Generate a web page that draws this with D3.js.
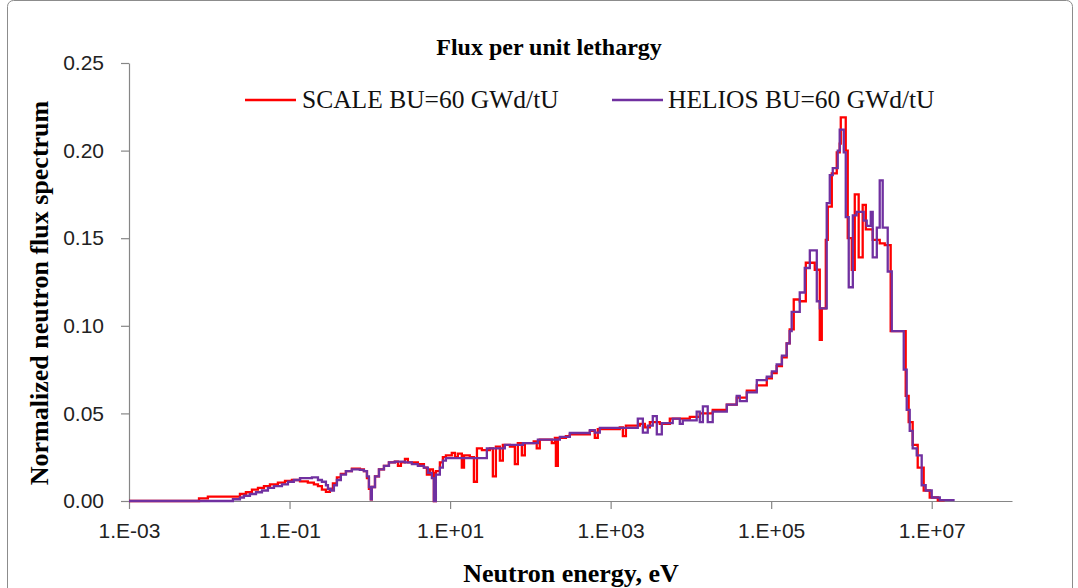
<!DOCTYPE html>
<html>
<head>
<meta charset="utf-8">
<script src="https://cdn.jsdelivr.net/npm/d3@7"></script>
<style>
  body { margin: 0; background: #fff; }
  svg { display: block; }
</style>
</head>
<body>
<svg id="chart" width="1078" height="588"></svg>
<script>
// Step spectra: each flux value holds from its energy up to the next energy (eV)
const heliosEnergy = [1e-3, 0.0197, 0.0241, 0.0270, 0.0321, 0.0382, 0.0453, 0.0538, 0.0640, 0.0804,
  0.0955, 0.113, 0.135, 0.190, 0.226, 0.253, 0.284, 0.301, 0.328, 0.357,
  0.389, 0.436, 0.504, 0.598, 0.753, 0.844, 0.921, 0.975, 1.03, 1.06,
  1.16, 1.30, 1.50, 1.73, 2.05, 2.74, 3.34, 3.97, 4.72, 5.29,
  5.93, 6.28, 6.65, 7.46, 8.13, 8.87, 28.7, 48.1, 80.6, 124,
  233, 310, 551, 635, 733, 2180, 2520, 2900, 3350, 3760,
  4340, 5940, 7270, 7920, 11800, 12900, 14100, 16200, 18700, 28000,
  37200, 40600, 49700, 66200, 88100, 1.02e5, 1.17e5, 1.36e5, 1.56e5, 1.70e5,
  1.80e5, 2.27e5, 2.62e5, 3.03e5, 3.70e5, 4.03e5, 4.92e5, 5.37e5, 5.85e5, 6.75e5,
  7.14e5, 8.02e5, 8.49e5, 9.25e5, 1.04e6, 1.16e6, 1.42e6, 1.55e6, 1.74e6, 1.84e6,
  2.07e6, 2.25e6, 2.45e6, 2.83e6, 3.18e6, 4.48e6, 4.88e6, 5.32e6, 5.79e6, 6.50e6,
  7.50e6, 8.41e6, 1.0e7, 1.26e7, 1.93e7];
const heliosFlux = [0, 0.001, 0.002, 0.003, 0.004, 0.005, 0.006, 0.0075, 0.0085, 0.0095,
  0.011, 0.012, 0.013, 0.0135, 0.012, 0.011, 0.009, 0.007, 0.006, 0.009,
  0.012, 0.015, 0.017, 0.018, 0.0178, 0.017, 0.014, 0.008, 0.001, 0.008,
  0.014, 0.018, 0.020, 0.022, 0.0225, 0.022, 0.021, 0.020, 0.019, 0.016,
  0.013, 0.0, 0.015, 0.019, 0.023, 0.0245, 0.030, 0.032, 0.033, 0.035,
  0.0366, 0.0388, 0.0405, 0.039, 0.0417, 0.047, 0.039, 0.043, 0.0485, 0.038,
  0.0445, 0.047, 0.044, 0.046, 0.051, 0.045, 0.054, 0.045, 0.051, 0.055,
  0.060, 0.057, 0.062, 0.069, 0.071, 0.074, 0.078, 0.083, 0.090, 0.097,
  0.108, 0.119, 0.133, 0.143, 0.114, 0.110, 0.170, 0.186, 0.190, 0.200,
  0.212, 0.199, 0.162, 0.122, 0.163, 0.165, 0.160, 0.157, 0.165, 0.139,
  0.156, 0.183, 0.156, 0.131, 0.097, 0.075, 0.052, 0.040, 0.030, 0.026,
  0.009, 0.006, 0.002, 0.0005, 0.0005];

const scaleEnergy = [1e-3, 7.45e-3, 9.6e-3, 0.0241, 0.0286, 0.0340, 0.0404, 0.0480, 0.0570, 0.0716,
  0.0877, 0.107, 0.135, 0.169, 0.201, 0.226, 0.253, 0.284, 0.318, 0.347,
  0.389, 0.436, 0.504, 0.598, 0.753, 0.844, 0.921, 0.975, 1.03, 1.06,
  1.16, 1.30, 1.50, 1.73, 2.05, 2.24, 2.44, 2.74, 2.98, 3.97,
  4.72, 5.14, 5.60, 6.11, 6.28, 6.65, 7.46, 8.13, 8.87, 10.5,
  11.5, 12.5, 14.0, 14.9, 17.6, 19.8, 21.6, 24.9, 31.3, 34.1,
  37.2, 41.7, 45.4, 55.6, 64.1, 69.8, 78.3, 85.3, 110, 120,
  131, 185, 202, 208, 220, 277, 310, 551, 635, 692,
  1300, 1420, 1550, 2310, 2670, 3080, 4100, 5460, 9690, 12900,
  18700, 28000, 37200, 49700, 66200, 88100, 1.02e5, 1.17e5, 1.36e5, 1.56e5,
  1.70e5, 1.91e5, 2.27e5, 2.70e5, 3.49e5, 4.03e5, 4.27e5, 4.79e5, 5.07e5, 5.69e5,
  6.56e5, 7.14e5, 7.36e5, 8.49e5, 8.99e5, 1.01e6, 1.10e6, 1.23e6, 1.38e6, 1.51e6,
  1.84e6, 2.25e6, 2.60e6, 3.08e6, 4.74e6, 5.16e6, 5.79e6, 6.69e6, 7.94e6, 9.44e6,
  1.19e7, 1.45e7];
const scaleFlux = [0, 0.0015, 0.0025, 0.004, 0.005, 0.0065, 0.0075, 0.0085, 0.0095, 0.0105,
  0.0115, 0.012, 0.0112, 0.0105, 0.0095, 0.0085, 0.0065, 0.0052, 0.0065, 0.010,
  0.0135, 0.0155, 0.017, 0.0185, 0.018, 0.017, 0.013, 0.007, 0.001, 0.008,
  0.014, 0.018, 0.020, 0.022, 0.0225, 0.020, 0.022, 0.024, 0.022, 0.021,
  0.019, 0.015, 0.018, 0.016, 0.0, 0.017, 0.022, 0.025, 0.026, 0.0275,
  0.025, 0.027, 0.019, 0.026, 0.025, 0.011, 0.030, 0.029, 0.030, 0.014,
  0.031, 0.023, 0.032, 0.031, 0.021, 0.033, 0.026, 0.033, 0.034, 0.030,
  0.035, 0.033, 0.036, 0.020, 0.036, 0.037, 0.038, 0.040, 0.036, 0.041,
  0.042, 0.037, 0.043, 0.044, 0.042, 0.045, 0.044, 0.047, 0.048, 0.050,
  0.052, 0.055, 0.059, 0.063, 0.066, 0.070, 0.073, 0.077, 0.082, 0.090,
  0.098, 0.115, 0.114, 0.136, 0.132, 0.092, 0.110, 0.149, 0.168, 0.187,
  0.199, 0.204, 0.219, 0.200, 0.150, 0.132, 0.175, 0.139, 0.169, 0.155,
  0.149, 0.147, 0.146, 0.097, 0.060, 0.045, 0.032, 0.019, 0.006, 0.002,
  0.0003, 0];

const xTicks = [1e-3, 1e-1, 1e1, 1e3, 1e5, 1e7];
const yTicks = [0, 0.05, 0.10, 0.15, 0.20, 0.25];

const series = [
  { name: "SCALE BU=60 GWd/tU", color: "#FF0000", energy: scaleEnergy, flux: scaleFlux },
  { name: "HELIOS BU=60 GWd/tU", color: "#7030A0", energy: heliosEnergy, flux: heliosFlux }
];

const svg = d3.select("#chart");
const width = 1078, height = 588;
const margin = { top: 63, right: 66, bottom: 87, left: 129 };
const axisColor = "#868686";

// outer chart frame
svg.append("rect")
  .attr("x", 7.5).attr("y", 0.5)
  .attr("width", 1065).attr("height", 620)
  .attr("rx", 6)
  .attr("fill", "none")
  .attr("stroke", "#8c8c8c");

const x = d3.scaleLog()
  .domain([1e-3, 1e8])
  .range([margin.left, width - margin.right]);

const y = d3.scaleLinear()
  .domain([0, 0.25])
  .range([height - margin.bottom, margin.top]);

function expLabel(d) {
  const e = Math.round(Math.log10(d));
  return "1.E" + (e < 0 ? "-" : "+") + String(Math.abs(e)).padStart(2, "0");
}

// x axis
const xAxis = svg.append("g")
  .attr("transform", `translate(0,${y(0)})`)
  .call(d3.axisBottom(x).tickValues(xTicks).tickFormat(expLabel).tickSizeInner(8).tickSizeOuter(0).tickPadding(14));

// y axis
const yAxis = svg.append("g")
  .attr("transform", `translate(${margin.left},0)`)
  .call(d3.axisLeft(y).tickValues(yTicks).tickFormat(d3.format(".2f")).tickSizeInner(8).tickSizeOuter(0).tickPadding(17));

[xAxis, yAxis].forEach(g => {
  g.select(".domain").attr("stroke", axisColor).attr("stroke-width", 1.2);
  g.selectAll(".tick line").attr("stroke", axisColor).attr("stroke-width", 1.2);
  g.selectAll(".tick text")
    .attr("fill", "#222")
    .style("font-family", "'Liberation Sans', Arial, sans-serif")
    .style("font-size", "21px");
});

// spectra
const line = d3.line()
  .x(d => x(d[0]))
  .y(d => y(d[1]))
  .curve(d3.curveStepAfter);

series.forEach(s => {
  const pts = s.energy.map((e, i) => [e, s.flux[i]]);
  svg.append("path")
    .datum(pts)
    .attr("fill", "none")
    .attr("stroke", s.color)
    .attr("stroke-width", 2.3)
    .attr("stroke-linejoin", "miter")
    .attr("d", line);
});

// title
svg.append("text")
  .attr("x", 549).attr("y", 55)
  .attr("text-anchor", "middle")
  .style("font-family", "'Liberation Serif', 'Times New Roman', serif")
  .style("font-weight", "bold")
  .style("font-size", "24px")
  .text("Flux per unit lethargy");

// legend
const legendItems = [
  { x0: 245, tx: 302 },
  { x0: 612, tx: 668 }
];
series.forEach((s, i) => {
  const it = legendItems[i];
  svg.append("line")
    .attr("x1", it.x0).attr("x2", it.x0 + 51)
    .attr("y1", 100).attr("y2", 100)
    .attr("stroke", s.color).attr("stroke-width", 2.3);
  svg.append("text")
    .attr("x", it.tx).attr("y", 108)
    .style("font-family", "'Liberation Serif', 'Times New Roman', serif")
    .style("font-size", "25.5px")
    .attr("fill", "#111")
    .text(s.name);
});

// axis titles
svg.append("text")
  .attr("transform", "translate(48,293) rotate(-90)")
  .attr("text-anchor", "middle")
  .style("font-family", "'Liberation Serif', 'Times New Roman', serif")
  .style("font-weight", "bold")
  .style("font-size", "26px")
  .text("Normalized neutron flux spectrum");

svg.append("text")
  .attr("x", 571).attr("y", 582)
  .attr("text-anchor", "middle")
  .style("font-family", "'Liberation Serif', 'Times New Roman', serif")
  .style("font-weight", "bold")
  .style("font-size", "26px")
  .text("Neutron energy, eV");
</script>
</body>
</html>
